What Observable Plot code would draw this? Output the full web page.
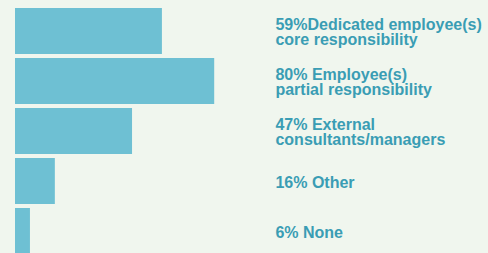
<!DOCTYPE html>
<html>
<head>
<meta charset="utf-8">
<script src="https://cdn.jsdelivr.net/npm/d3@7"></script>
<script src="https://cdn.jsdelivr.net/npm/@observablehq/plot@0.6"></script>
<style>
  html, body { margin: 0; padding: 0; background: #f0f6ee; }
  #chart svg { display: block; }
</style>
</head>
<body>
<div id="chart"></div>
<script>
const categories = ["Dedicated", "Partial", "External", "Other", "None"];
const values = [59, 80, 47, 16, 6];
const labels = [
  "59%Dedicated employee(s)\ncore responsibility",
  "80% Employee(s)\npartial responsibility",
  "47% External\nconsultants/managers",
  "16% Other",
  "6% None"
];

const data = categories.map((c, i) => ({category: c, value: values[i], label: labels[i]}));

const chart = Plot.plot({
  width: 488,
  height: 253,
  margin: 0,
  style: {background: "#f0f6ee", fontFamily: "'Liberation Sans', Arial, sans-serif"},
  x: {domain: [0, 100], range: [15, 264], axis: null},
  y: {domain: categories, range: [7, 254], paddingInner: 0.085, paddingOuter: 0, axis: null},
  marks: [
    Plot.barX(data, {x: "value", y: "category", fill: "#6ec0d3"}),
    Plot.text(data, {
      x: 105, y: "category", text: "label",
      textAnchor: "start", lineAnchor: "middle", lineHeight: 0.9,
      dx: -1.5, dy: 1.5,
      fill: "#3a9db4", fontSize: 16, fontWeight: "bold"
    })
  ]
});
document.getElementById("chart").append(chart);
</script>
</body>
</html>
